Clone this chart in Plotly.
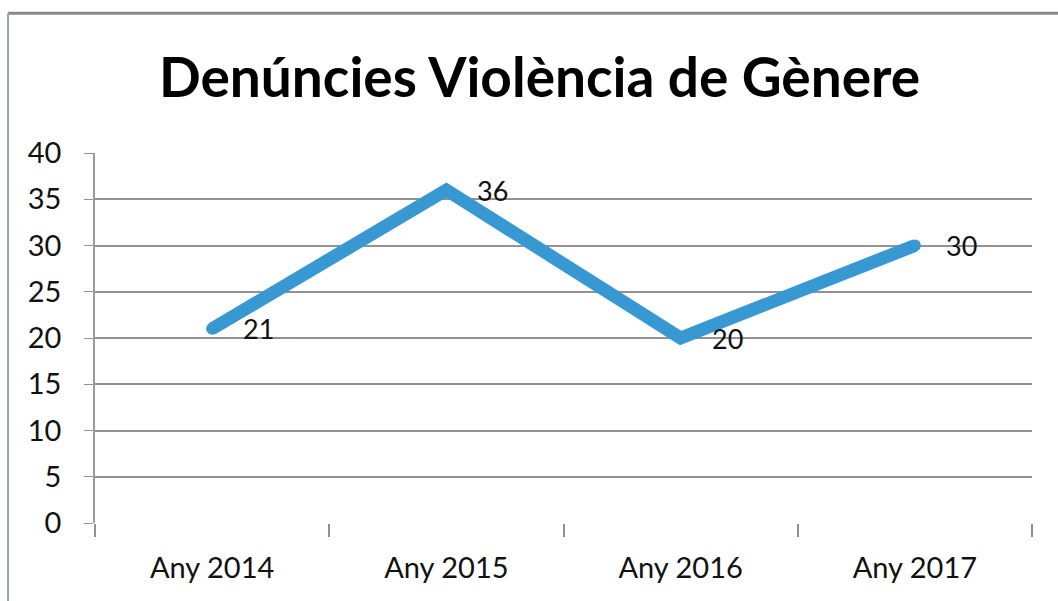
import plotly.graph_objects as go

categories = ["Any 2014", "Any 2015", "Any 2016", "Any 2017"]
values = [21, 36, 20, 30]
y_ticks = [0, 5, 10, 15, 20, 25, 30, 35, 40]

FONT = "Lato"

fig = go.Figure()
fig.add_trace(go.Scatter(
    x=categories, y=values, mode="lines+markers",
    line=dict(color="#3798D2", width=13),
    marker=dict(color="#3798D2", size=12, line=dict(width=0)),
    hoverinfo="skip", showlegend=False,
))

for c, v in zip(categories, values):
    fig.add_annotation(
        x=c, y=v, text=str(v), showarrow=False,
        xanchor="left", yanchor="middle", xshift=29, yshift=0,
        font=dict(family=FONT, size=27, color="#111111"),
    )

fig.update_layout(
    width=1058, height=601,
    margin=dict(l=95, r=26, t=153, b=78),
    paper_bgcolor="white", plot_bgcolor="white",
    title=dict(
        text="<b>Denúncies Violència de Gènere</b>",
        x=0.51, xanchor="center", y=0.87, yanchor="middle",
        font=dict(family=FONT, size=55, color="#000000"),
    ),
    xaxis=dict(
        type="category", range=[-0.5, 3.5],
        showgrid=False, showline=False,
        ticks="outside", ticklen=13, tickcolor="#8f8f8f", tickwidth=1.5,
        tickson="boundaries",
        tickfont=dict(family=FONT, size=29, color="#111111"),
        zeroline=False, ticklabelstandoff=25,
    ),
    yaxis=dict(
        range=[0, 40], tickvals=y_ticks,
        showgrid=True, gridcolor="#929292", gridwidth=1.5,
        showline=True, linecolor="#9a9a9a", linewidth=1.5,
        ticks="outside", ticklen=9, tickcolor="#929292",
        tickfont=dict(family=FONT, size=29, color="#111111"),
        zeroline=False, ticklabelstandoff=17,
    ),
)

# outer frame of the scanned chart
fig.add_shape(type="line", xref="paper", yref="paper",
              x0=-0.0928, x1=1.03, y0=1.378, y1=1.378,
              line=dict(color="#8a8a8a", width=3))
fig.add_shape(type="line", xref="paper", yref="paper",
              x0=-0.0928, x1=-0.0928, y0=1.378, y1=-0.22,
              line=dict(color="#9aa0b0", width=2))

fig.write_html("out.html", config={"displayModeBar": False},
               post_script="document.body.style.margin='0px';")
